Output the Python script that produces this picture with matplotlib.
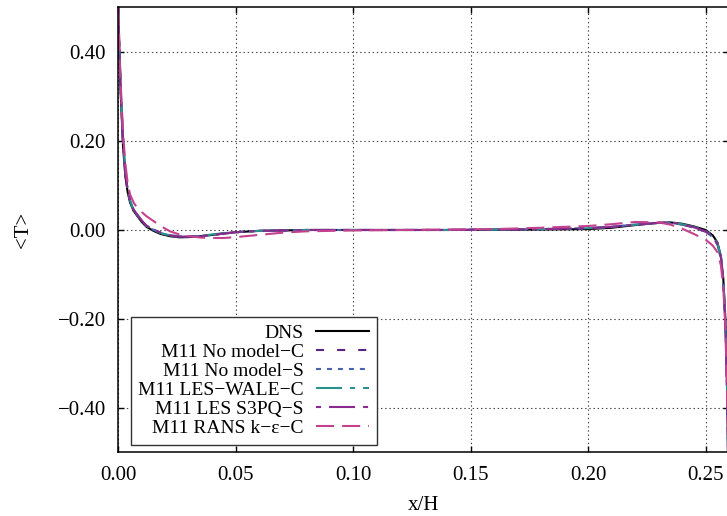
import matplotlib
matplotlib.use("Agg")
import matplotlib.pyplot as plt
from matplotlib.ticker import FuncFormatter

plt.rcParams['font.family'] = ['Liberation Serif', 'DejaVu Serif']
plt.rcParams['font.size'] = 15
plt.rcParams['lines.scale_dashes'] = False

# wall-normal positions shared by every profile
x = [0.0, 0.0005, 0.001, 0.002, 0.003, 0.004, 0.005, 0.0065, 0.008, 0.01,
     0.012, 0.015, 0.018, 0.022, 0.026, 0.03, 0.035, 0.04, 0.045, 0.05,
     0.06, 0.07, 0.08, 0.10, 0.12, 0.14, 0.16, 0.18, 0.20, 0.21,
     0.22, 0.23, 0.235, 0.24, 0.245, 0.25, 0.253, 0.255, 0.2565, 0.2575,
     0.2583, 0.2588, 0.2592, 0.2595]

T_dns = [0.5, 0.39, 0.31, 0.19, 0.12, 0.085, 0.062, 0.043, 0.032, 0.018,
         0.007, -0.002, -0.009, -0.014, -0.0165, -0.016, -0.014, -0.011, -0.008, -0.005,
         -0.002, -0.001, 0.0, 0.0, 0.0, 0.0, 0.0005, 0.001, 0.002, 0.005,
         0.011, 0.016, 0.017, 0.014, 0.008, 0.0, -0.012, -0.028, -0.06, -0.11,
         -0.19, -0.28, -0.38, -0.5]

T_nomodel_c = [0.5, 0.40, 0.32, 0.20, 0.13, 0.09, 0.066, 0.046, 0.035, 0.021,
               0.010, 0.001, -0.006, -0.012, -0.015, -0.015, -0.014, -0.011, -0.008, -0.005,
               -0.002, -0.001, 0.0, 0.0, 0.0, 0.0, 0.001, 0.002, 0.004, 0.007,
               0.012, 0.016, 0.016, 0.012, 0.005, -0.004, -0.015, -0.032, -0.065, -0.12,
               -0.20, -0.29, -0.39, -0.5]

T_nomodel_s = [0.5, 0.40, 0.32, 0.20, 0.128, 0.089, 0.065, 0.045, 0.034, 0.020,
               0.009, 0.0, -0.007, -0.013, -0.0155, -0.015, -0.0135, -0.011, -0.008, -0.005,
               -0.002, -0.001, 0.0, 0.0, 0.0, 0.0, 0.001, 0.002, 0.004, 0.007,
               0.012, 0.016, 0.016, 0.012, 0.005, -0.004, -0.016, -0.033, -0.066, -0.12,
               -0.20, -0.29, -0.39, -0.5]

T_wale_c = [0.5, 0.41, 0.33, 0.21, 0.13, 0.09, 0.066, 0.046, 0.034, 0.020,
            0.009, 0.0, -0.007, -0.012, -0.014, -0.014, -0.013, -0.010, -0.007, -0.005,
            -0.002, -0.001, 0.0, 0.0, 0.0, 0.0, 0.001, 0.002, 0.004, 0.007,
            0.012, 0.016, 0.016, 0.013, 0.007, -0.002, -0.013, -0.029, -0.06, -0.11,
            -0.19, -0.28, -0.38, -0.5]

T_s3pq_s = [0.5, 0.40, 0.32, 0.20, 0.13, 0.09, 0.066, 0.046, 0.035, 0.021,
            0.010, 0.001, -0.006, -0.012, -0.015, -0.015, -0.014, -0.011, -0.008, -0.005,
            -0.002, -0.001, 0.0, 0.0, 0.0, 0.0, 0.001, 0.002, 0.004, 0.007,
            0.012, 0.016, 0.017, 0.013, 0.006, -0.003, -0.015, -0.031, -0.063, -0.115,
            -0.20, -0.29, -0.39, -0.5]

T_rans_c = [0.5, 0.40, 0.33, 0.22, 0.15, 0.105, 0.08, 0.062, 0.05, 0.04,
            0.031, 0.02, 0.009, -0.003, -0.01, -0.014, -0.017, -0.018, -0.018, -0.016,
            -0.011, -0.006, -0.003, -0.001, 0.0, 0.001, 0.002, 0.005, 0.009, 0.013,
            0.018, 0.017, 0.012, 0.003, -0.009, -0.022, -0.035, -0.05, -0.08, -0.13,
            -0.21, -0.30, -0.40, -0.5]

labels = ['DNS', 'M11 No model\u2212C', 'M11 No model\u2212S', 'M11 LES\u2212WALE\u2212C',
          'M11 LES S3PQ\u2212S', 'M11 RANS k\u2212\u03b5\u2212C']
series = [T_dns, T_nomodel_c, T_nomodel_s, T_wale_c, T_s3pq_s, T_rans_c]
colors = ['black', '#5a2380', '#4a64ac', '#2a918c', '#8b2a8e', '#c4418f']
dashes = [None, (5.8, 9.4), (3.6, 4.3), (18.7, 5.8, 3.6, 5.8),
          (3.6, 5.8, 18.7, 5.8), (13, 5.8)]

fig = plt.figure(figsize=(7.27, 5.16), dpi=100)
ax = fig.add_axes([0.1627, 0.1231, 0.8403, 0.8624])

for T, lab, c, d in zip(series, labels, colors, dashes):
    line, = ax.plot(x, T, color=c, lw=1.5, label=lab)
    if d is not None:
        line.set_dashes(d)

fmt = FuncFormatter(lambda v, pos: f'{v:.2f}'.replace('-', '\u2212'))
ax.set_xlim(0, 0.26)
ax.set_ylim(-0.5, 0.5)
ax.set_xticks([0.0, 0.05, 0.10, 0.15, 0.20, 0.25])
ax.set_yticks([-0.4, -0.2, 0.0, 0.2, 0.4])
ax.xaxis.set_major_formatter(fmt)
ax.yaxis.set_major_formatter(fmt)
ax.tick_params(direction='in', length=4, width=1, top=True, right=True)
ax.tick_params(axis='x', pad=10)
ax.tick_params(axis='y', pad=9)
ax.grid(True, color='#444444', lw=0.8, linestyle=(0, (1, 2)))
for s in ax.spines.values():
    s.set_linewidth(1.1)

ax.set_xlabel('x/H', labelpad=8)
ax.set_ylabel('<T>', labelpad=18)

# text on the left, sample on the right; rows are right-aligned by the packer
leg = ax.legend(loc='lower left', bbox_to_anchor=(0.02, 0.017), markerfirst=False,
                fontsize=14, handlelength=2.73, labelspacing=0.07, borderpad=0.4,
                handletextpad=0.62, fancybox=False, framealpha=1,
                edgecolor='#333333', borderaxespad=0)
leg.get_frame().set_linewidth(1.0)

fig.savefig('out.png', dpi=100)
